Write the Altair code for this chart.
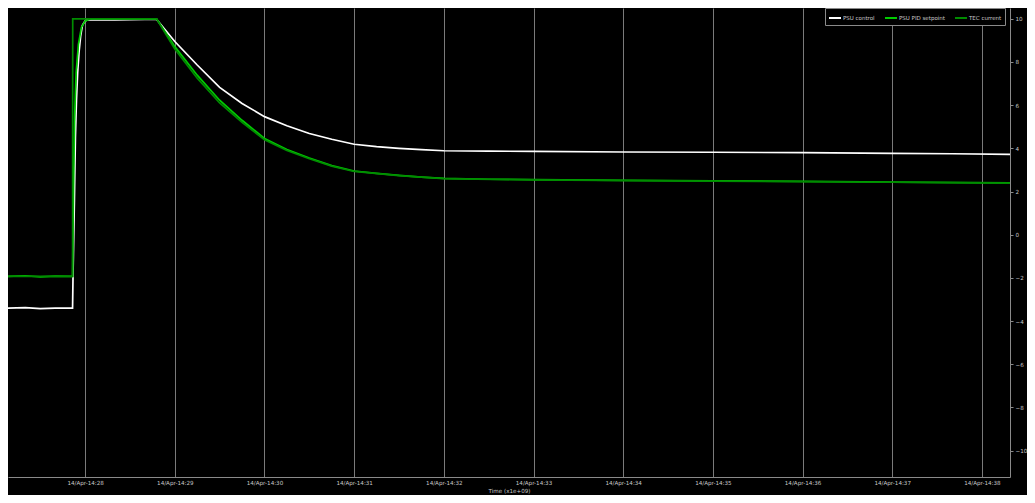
import altair as alt
import pandas as pd

# time in seconds after 14:27:00 (14 Apr)
psu_t = [8.4, 20, 30, 40, 51.6, 52.0, 52.8, 53.5, 54.2, 55.0, 56.0, 57.0, 58.2, 60.0, 61.5, 80, 100, 107.8,
         120, 135, 150, 165, 180, 195, 210, 225, 240, 255, 270, 285, 300, 330, 360, 420, 480, 540, 600, 640, 678.8]
psu_v = [-3.40, -3.38, -3.42, -3.40, -3.40, -1.5, 1.5, 4.5, 6.2, 7.5, 8.5, 9.2, 9.7, 9.9, 9.95, 9.95, 9.97, 9.97,
         8.95, 7.86, 6.82, 6.08, 5.47, 5.05, 4.69, 4.42, 4.19, 4.08, 4.00, 3.94, 3.89, 3.87, 3.86, 3.83, 3.82, 3.80, 3.77, 3.75, 3.72]

set_t = [8.4, 20, 30, 40, 51.6, 52.2, 53.0, 54.0, 55.5, 57.5, 60.0, 64.0, 80, 100, 107.8,
         120, 135, 150, 165, 180, 195, 210, 225, 240, 255, 270, 285, 300, 330, 360, 420, 480, 540, 600, 678.8]
set_v = [-1.93, -1.90, -1.95, -1.92, -1.93, 2.0, 5.5, 7.5, 8.8, 9.6, 9.9, 10.0, 10.0, 10.0, 10.0,
         8.72, 7.39, 6.23, 5.30, 4.46, 3.95, 3.55, 3.20, 2.95, 2.84, 2.75, 2.67, 2.61, 2.57, 2.55, 2.52, 2.49, 2.47, 2.44, 2.40]

tec_t = [8.4, 51.6, 51.7, 107.8, 120, 135, 150, 165, 180, 195, 210, 225, 240, 270, 300, 360, 480, 600, 678.8]
tec_v = [-1.93, -1.93, 10.0, 10.0, 8.60, 7.25, 6.10, 5.20, 4.40, 3.90, 3.52, 3.18, 2.93, 2.74, 2.60, 2.54, 2.48, 2.43, 2.39]

series_names = ["PSU control", "PSU PID setpoint", "TEC current"]
series_colors = ["#ffffff", "#00cc00", "#008c00"]
minute_ticks = [60, 120, 180, 240, 300, 360, 420, 480, 540, 600, 660]
y_ticks = [-10, -8, -6, -4, -2, 0, 2, 4, 6, 8, 10]

rows = []
for name, ts, vs in [(series_names[0], psu_t, psu_v), (series_names[1], set_t, set_v), (series_names[2], tec_t, tec_v)]:
    for i, (t, v) in enumerate(zip(ts, vs)):
        rows.append({"series": name, "t": t, "v": v, "i": i})
df = pd.DataFrame(rows)

FONT = "DejaVu Sans"
chart = alt.Chart(df).mark_line(strokeWidth=1.7, interpolate="linear", clip=True).encode(
    x=alt.X("t:Q", scale=alt.Scale(domain=[8.4, 678.8], nice=False, zero=False),
            axis=alt.Axis(values=minute_ticks, labelExpr="'14/Apr-14:' + (27 + floor(datum.value/60))",
                          title="Time (x1e+09)", grid=True, gridColor="#7a7a7a", gridWidth=1,
                          domainColor="#8a8a8a", tickColor="#8a8a8a", tickSize=0,
                          labelColor="#c8c8c8", titleColor="#c8c8c8", labelFontSize=5.6, titleFontSize=5.6,
                          titleFontWeight="normal", labelFont=FONT, titleFont=FONT,
                          labelPadding=3, titlePadding=3, labelFlush=False)),
    y=alt.Y("v:Q", scale=alt.Scale(domain=[-11.22, 10.5], nice=False, zero=False),
            axis=alt.Axis(orient="right", values=y_ticks, grid=False, title=None,
                          domainColor="#8a8a8a", tickColor="#8a8a8a", tickSize=3,
                          labelColor="#c8c8c8", labelFontSize=5.6, labelFont=FONT, labelPadding=2)),
    color=alt.Color("series:N", scale=alt.Scale(domain=series_names, range=series_colors),
                    legend=alt.Legend(orient="none", legendX=817, legendY=0, direction="horizontal",
                                      title=None, symbolType="stroke", symbolSize=144, symbolStrokeWidth=2,
                                      labelColor="#c8c8c8", labelFontSize=5.5, labelFont=FONT, labelOffset=1,
                                      strokeColor="#8a8a8a", padding=3, columnPadding=6,
                                      fillColor="#000000")),
    order="i:Q",
).properties(
    width=1019, height=487, background="#000000", padding=0,
    autosize=alt.AutoSizeParams(type="fit", contains="padding")
).configure_view(stroke=None)

chart.save("out.html", embed_options={"renderer": "svg", "actions": False})
